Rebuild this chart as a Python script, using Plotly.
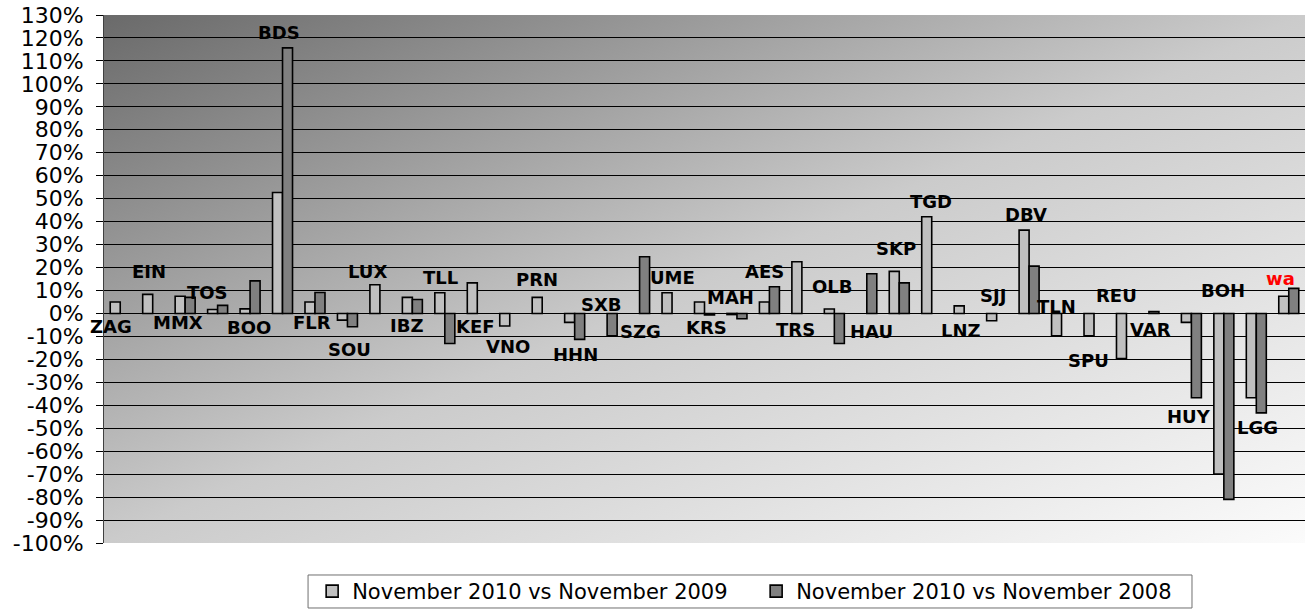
import base64
import plotly.graph_objects as go

# ---------------- data ----------------
categories = ["ZAG", "EIN", "MMX", "TOS", "BOO", "BDS", "FLR", "SOU", "LUX", "IBZ",
              "TLL", "KEF", "VNO", "PRN", "HHN", "SXB", "SZG", "UME", "KRS", "MAH",
              "AES", "TRS", "OLB", "HAU", "SKP", "TGD", "LNZ", "SJJ", "DBV", "TLN",
              "SPU", "REU", "VAR", "HUY", "BOH", "LGG", "wa"]

nov10_vs_nov09 = [5.0, 8.3, 7.5, 1.7, 2.0, 52.7, 5.0, -2.9, 12.5, 7.0,
                  9.0, 13.3, -5.5, 7.0, -3.9, None, None, 9.0, 5.0, -0.5,
                  5.0, 22.5, 1.9, None, 18.3, 42.1, 3.3, -3.2, 36.3, -9.7,
                  -9.7, -19.6, 0.8, -3.9, -70.0, -36.7, 7.5]

nov10_vs_nov08 = [None, None, 7.0, 3.5, 14.2, 115.7, 9.1, -5.8, None, 6.1,
                  -13.1, None, None, None, -11.3, -9.7, 24.7, None, -0.7, -2.3,
                  11.6, None, -13.1, 17.3, 13.3, None, None, None, 20.6, None,
                  None, None, None, -36.7, -81.0, -43.3, 10.9]

series_names = ["November 2010 vs November 2009", "November 2010 vs November 2008"]

y_ticks = list(range(-100, 131, 10))
y_tick_labels = [f"{v}%" for v in y_ticks]

# label placement (offset from category centre in category units, y in %)
label_dx = [-0.29, -0.10, -0.21, -0.31, -0.03, -0.11, -0.10, 0.06, -0.39, -0.17,
            -0.12, -0.05, -0.06, -0.17, 0.03, -0.16, 0.02, 0.01, 0.07, -0.21,
            -0.14, -0.19, -0.07, 0.14, -0.11, -0.03, -0.10, -0.11, -0.10, -0.16,
            -0.16, -0.30, -0.27, -0.07, -0.02, 0.04, -0.24]
label_y = [-5.8, 18.1, -4.1, 9.0, -6.3, 122.2, -4.1, -15.7, 18.1, -5.1,
           15.7, -5.8, -14.2, 14.9, -17.7, 4.1, -8.0, 15.7, -6.1, 7.0,
           18.1, -7.0, 11.6, -8.0, 28.3, 48.6, -7.3, 7.7, 43.2, 2.9,
           -20.3, 8.0, -7.0, -45.0, 9.9, -49.8, 15.2]
label_colors = ["#000000"] * (len(categories) - 1) + ["#ff0000"]

# ---------------- styles ----------------
bar_colors = ["#c0c0c0", "#808080"]

fig = go.Figure()
for name, vals, col in zip(series_names, [nov10_vs_nov09, nov10_vs_nov08], bar_colors):
    fig.add_trace(go.Bar(
        x=categories, y=vals, name=name,
        marker=dict(color=col, line=dict(color="#000000", width=1.6)),
        hoverinfo="x+y",
    ))

for i, (cat, dx, ly, lc) in enumerate(zip(categories, label_dx, label_y, label_colors)):
    fig.add_annotation(
        x=i + dx, y=ly, text=f"<b>{cat}</b>", showarrow=False,
        xref="x", yref="y", xanchor="center", yanchor="middle",
        font=dict(family="DejaVu Sans", size=18, color=lc),
    )

# diagonal grey gradient background of plot area
svg = ('<svg xmlns="http://www.w3.org/2000/svg" width="1200" height="528" '
       'preserveAspectRatio="none" viewBox="0 0 1200 528">'
       '<defs><linearGradient id="g" x1="0" y1="0" x2="1" y2="1">'
       '<stop offset="0" stop-color="#6a6a6a"/>'
       '<stop offset="0.5" stop-color="#cbcbcb"/>'
       '<stop offset="1" stop-color="#fbfbfb"/>'
       '</linearGradient></defs>'
       '<rect width="1200" height="528" fill="url(#g)"/></svg>')
src = "data:image/svg+xml;base64," + base64.b64encode(svg.encode()).decode()
fig.add_layout_image(dict(source=src, xref="paper", yref="paper", x=0, y=1,
                          sizex=1, sizey=1, xanchor="left", yanchor="top",
                          sizing="stretch", layer="below", opacity=1))

# legend frame
fig.add_shape(type="rect", xref="paper", yref="paper",
              x0=0.1699, x1=0.9059, y0=-0.0606, y1=-0.1231,
              line=dict(color="#707070", width=1), fillcolor="#ffffff", layer="below")

fig.update_layout(
    width=1309, height=610,
    margin=dict(l=104, r=4, t=15, b=67, autoexpand=False),
    paper_bgcolor="#ffffff",
    plot_bgcolor="rgba(0,0,0,0)",
    barmode="group", bargap=0.384, bargroupgap=0,
    font=dict(family="DejaVu Sans", color="#000000"),
    showlegend=True,
    legend=dict(
        orientation="h", x=0.543, xanchor="center", y=-0.053, yanchor="top",
        bgcolor="rgba(0,0,0,0)", borderwidth=0,
        font=dict(family="DejaVu Sans", size=21, color="#000000"),
        itemwidth=30, entrywidth=399, traceorder="normal",
    ),
    xaxis=dict(
        type="category", range=[-0.5, len(categories) - 0.5],
        showticklabels=False, ticks="", showgrid=False, zeroline=False,
        showline=False, fixedrange=True, automargin=False,
    ),
    yaxis=dict(
        range=[-100, 130], tickvals=y_ticks, ticktext=y_tick_labels,
        showgrid=True, gridcolor="#000000", gridwidth=1,
        zeroline=False, showline=True, linecolor="#404040", linewidth=1,
        ticks="outside", ticklen=7, tickcolor="#000000",
        tickfont=dict(family="DejaVu Sans", size=22, color="#000000"),
        ticklabelstandoff=8, fixedrange=True, automargin=False,
    ),
)

fig.write_html("out.html",
               config={"displayModeBar": False},
               post_script="document.body.style.margin='0px';document.body.style.overflow='hidden';")
